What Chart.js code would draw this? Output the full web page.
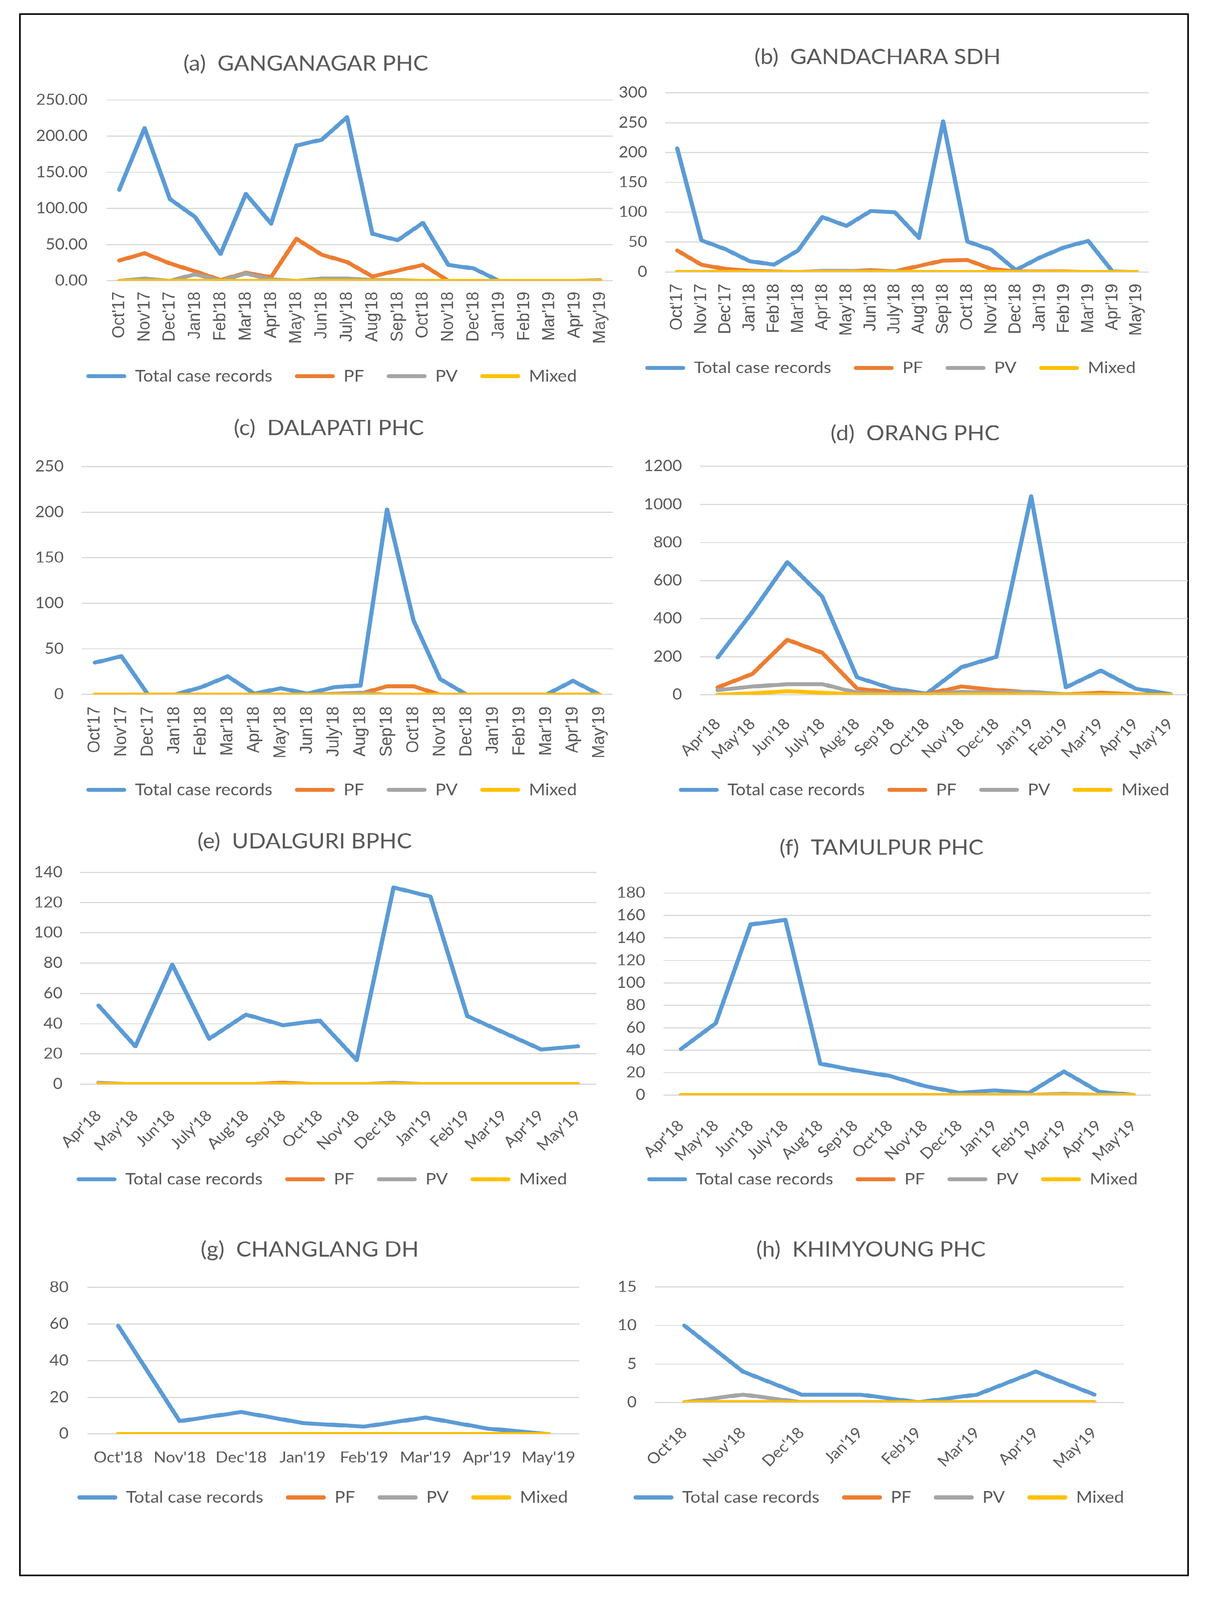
<!DOCTYPE html>
<html><head><meta charset="utf-8">
<script src="https://cdn.jsdelivr.net/npm/chart.js@4.4.1/dist/chart.umd.min.js"></script>
<style>
html,body{margin:0;padding:0;background:#fff;overflow:hidden;}
#stage{position:absolute;left:0;top:0;width:3093px;height:4425px;transform-origin:0 0;}
#frame{position:absolute;left:49px;top:37px;width:2995px;height:4322px;box-sizing:border-box;border:4px solid #000;}
canvas{position:absolute;}
</style></head><body>
<div id="stage"><div id="frame"></div></div>
<script>
// ---------- categories ----------
const months20 = ["Oct'17","Nov'17","Dec'17","Jan'18","Feb'18","Mar'18","Apr'18","May'18","Jun'18","July'18","Aug'18","Sep'18","Oct'18","Nov'18","Dec'18","Jan'19","Feb'19","Mar'19","Apr'19","May'19"];
const months14 = ["Apr'18","May'18","Jun'18","July'18","Aug'18","Sep'18","Oct'18","Nov'18","Dec'18","Jan'19","Feb'19","Mar'19","Apr'19","May'19"];
const months8 = ["Oct'18","Nov'18","Dec'18","Jan'19","Feb'19","Mar'19","Apr'19","May'19"];
const seriesNames = ["Total case records","PF","PV","Mixed"];
const seriesColors = ["#5B9BD5","#ED7D31","#A5A5A5","#FFC000"];

// ---------- titles ----------
const titleA = "(a)  GANGANAGAR PHC";
const titleB = "(b)  GANDACHARA SDH";
const titleC = "(c)  DALAPATI PHC";
const titleD = "(d)  ORANG PHC";
const titleE = "(e)  UDALGURI BPHC";
const titleF = "(f)  TAMULPUR PHC";
const titleG = "(g)  CHANGLANG DH";
const titleH = "(h)  KHIMYOUNG PHC";

// ---------- series values ----------
const totalA = [126,211,113,88,37,120,79,187,195,226,65,56,80,22,17,0,0,0,0,0];
const pfA    = [28,38,24,13,1,11,5,58,36,26,6,14,22,0,0,0,0,0,0,0];
const pvA    = [0,3,0,9,0,10,2,0,3,3,1,1,0,0,0,0,0,0,0,1];
const mixA   = [0,0,0,0,0,0,0,0,0,0,0,0,0,0,0,0,0,0,0,0];

const totalB = [207,53,38,18,12,36,92,77,102,100,57,252,51,37,3,24,41,52,1,0];
const pfB    = [36,12,5,2,1,0,1,1,3,1,10,19,20,5,1,1,1,0,0,0];
const pvB    = [0,0,0,0,0,0,2,2,1,1,0,0,0,0,0,1,0,0,0,0];
const mixB   = [0,0,0,0,0,0,0,0,0,0,0,0,0,0,0,0,0,0,0,0];

const totalC = [35,42,0,0,8,20,1,7,1,8,10,203,81,17,0,0,0,0,15,0];
const pfC    = [0,0,0,0,0,0,0,0,0,0,1,9,9,0,0,0,0,0,0,0];
const pvC    = [0,0,0,0,0,0,0,0,0,1,2,0,0,0,0,0,0,0,0,0];
const mixC   = [0,0,0,0,0,0,0,0,0,0,0,0,0,0,0,0,0,0,0,0];

const totalD = [196,436,697,516,92,33,6,145,199,1042,39,127,32,4];
const pfD    = [39,110,289,221,33,12,4,43,25,12,3,11,3,1];
const pvD    = [25,43,56,56,11,5,3,15,11,15,3,2,1,0];
const mixD   = [1,8,18,11,2,1,1,2,2,2,1,1,0,0];

const totalE = [52,25,79,30,46,39,42,16,130,124,45,34,23,25];
const pfE    = [0,0,0,0,0,1,0,0,0,0,0,0,0,0];
const pvE    = [1,0,0,0,0,0,0,0,1,0,0,0,0,0];
const mixE   = [0,0,0,0,0,0,0,0,0,0,0,0,0,0];

const totalF = [41,64,152,156,28,22,17,8,2,4,2,21,3,0];
const pfF    = [0,0,0,0,0,0,0,0,0,0,0,0,0,0];
const pvF    = [0,0,0,0,0,0,0,0,0,0,0,1,0,0];
const mixF   = [0,0,0,0,0,0,0,0,0,0,0,0,0,0];

const totalG = [59,7,12,6,4,9,3,0];
const pfG    = [0,0,0,0,0,0,0,0];
const pvG    = [0,0,0,0,0,0,0,0];
const mixG   = [0,0,0,0,0,0,0,0];

const totalH = [10,4,1,1,0,1,4,1];
const pfH    = [0,0,0,0,0,0,0,0];
const pvH    = [0,1,0,0,0,0,0,0];
const mixH   = [0,0,0,0,0,0,0,0];

// ---------- y-axis tick settings ----------
const yMaxes = [250,300,250,1200,140,180,80,15];
const ySteps = [50,50,50,200,20,20,20,5];

// ---------- panel table (built from the arrays above) ----------
const panelData = [
  {title:titleA, labels:months20, series:[totalA,pfA,pvA,mixA], dec:2},
  {title:titleB, labels:months20, series:[totalB,pfB,pvB,mixB], dec:0},
  {title:titleC, labels:months20, series:[totalC,pfC,pvC,mixC], dec:0},
  {title:titleD, labels:months14, series:[totalD,pfD,pvD,mixD], dec:0},
  {title:titleE, labels:months14, series:[totalE,pfE,pvE,mixE], dec:0},
  {title:titleF, labels:months14, series:[totalF,pfF,pvF,mixF], dec:0},
  {title:titleG, labels:months8,  series:[totalG,pfG,pvG,mixG], dec:0},
  {title:titleH, labels:months8,  series:[totalH,pfH,pvH,mixH], dec:0}
];

// ---------- layout (reference pixels) ----------
const layout = [
  {pl:273, pr:1569, pt:276.5, pb:777,   ylr:224,   tx:783,  ty:176,  lx:849,  ly:1041, rot:90, xpad:30},
  {pl:1703,pr:2941, pt:257,   pb:752.5, ylr:1657,  tx:2247, ty:158,  lx:2280, ly:1018, rot:90, xpad:33},
  {pl:209, pr:1569, pt:1290.7,pb:1921.4,ylr:163,   tx:842,  ty:1184, lx:849,  ly:2185, rot:90, xpad:33},
  {pl:1793,pr:3046, pt:1290,  pb:1922,  ylr:1746,  tx:2343, ty:1199, lx:2366, ly:2185, rot:45, xpad:56},
  {pl:205, pr:1527, pt:2412.7,pb:2999,  ylr:160,   tx:780,  ty:2327, lx:824,  ly:3262, rot:45, xpad:62},
  {pl:1699,pr:2947, pt:2470,  pb:3029,  ylr:1652,  tx:2257, ty:2345, lx:2285, ly:3262, rot:45, xpad:60},
  {pl:224, pr:1483, pt:3560.5,pb:3966.4,ylr:175.5, tx:793,  ty:3456, lx:826,  ly:4142, rot:0,  xpad:40},
  {pl:1677,pr:2877, pt:3560,  pb:3878.6,ylr:1630,  tx:2230, ty:3456, lx:2250, ly:4142, rot:45, xpad:60}
];

const TEXT = '#595959';
const TF = 58, LF = 45, YF = 42, LEGPAD = 58;

const placePlugin = {
  id: 'place',
  afterLayout(chart, args, opts) {
    const tb = chart.titleBlock;
    if (tb) { const w = tb.right - tb.left; tb.left = opts.titleX - w/2; tb.right = tb.left + w; }
    const lg = chart.legend;
    if (lg) { const w = lg.right - lg.left; lg.left = opts.legendX - w/2; lg.right = lg.left + w; }
    // let the x tick labels run past the axis box (no clipping)
    const xs = chart.scales.x;
    if (xs) xs.bottom = chart.height;
  }
};

const stage = document.getElementById('stage');
function fitStage() {
  const vw = window.innerWidth || 3093, vh = window.innerHeight || 4425;
  stage.style.transform = 'scale(' + (vw/3093) + ',' + (vh/4425) + ')';
}
fitStage();
window.addEventListener('resize', fitStage);

function build(i) {
  const d = panelData[i], g = layout[i];
  const L = g.pl < 1000 ? 55 : 1500;
  const Wy = g.pl - L;
  const Wr = Math.min(150, 3090 - g.pr);
  const W = g.pr + Wr - L;
  const padTop = 10;
  const T = g.ty - 0.6*TF - padTop;
  const padBottom = g.pt - g.ty - 0.6*TF;
  const B = g.ly + LF/2 + 10;
  const H = B - T;
  const legendTop = g.ly - LF/2 - LEGPAD;
  const xh = legendTop - g.pb;

  const cv = document.createElement('canvas');
  cv.width = Math.round(W); cv.height = Math.round(H);
  cv.style.left = L + 'px'; cv.style.top = T + 'px';
  cv.style.width = Math.round(W) + 'px'; cv.style.height = Math.round(H) + 'px';
  stage.appendChild(cv);

  const xFont = g.rot === 90 ? {family:"'Liberation Sans', Arial, sans-serif", size:45}
                             : {family:"Lato, sans-serif", size:YF};

  const datasets = d.series.map((vals, k) => ({
    label: seriesNames[k],
    data: vals,
    borderColor: seriesColors[k],
    backgroundColor: seriesColors[k],
    borderWidth: 11,
    pointRadius: 0,
    pointHoverRadius: 0,
    tension: 0,
    fill: false,
    borderJoinStyle: 'round',
    borderCapStyle: 'round',
    yAxisID: 'y',
    order: 3 - k
  }));

  new Chart(cv.getContext('2d'), {
    type: 'line',
    data: { labels: d.labels, datasets },
    plugins: [placePlugin],
    options: {
      responsive: false,
      animation: false,
      devicePixelRatio: 1,
      layout: { padding: 0 },
      events: [],
      scales: {
        x: {
          type: 'category',
          offset: true,
          grid: { display: false, drawTicks: false },
          border: { display: false },
          ticks: {
            autoSkip: false, minRotation: g.rot, maxRotation: g.rot,
            padding: g.xpad, color: TEXT, font: xFont
          },
          afterFit: s => { s.height = xh; }
        },
        y: {
          type: 'linear', position: 'left',
          min: 0, max: yMaxes[i],
          grid: { color: '#d9d9d9', lineWidth: 3, drawTicks: false },
          border: { display: false },
          ticks: {
            stepSize: ySteps[i], padding: g.pl - g.ylr, color: TEXT,
            font: {family: "Lato, sans-serif", size: YF},
            callback: v => Number(v).toFixed(d.dec)
          },
          afterFit: s => { s.width = Wy; }
        },
        yR: {
          type: 'linear', position: 'right', display: true,
          grid: { display: false, drawTicks: false },
          border: { display: false },
          ticks: { display: false },
          afterFit: s => { s.width = Wr; }
        }
      },
      plugins: {
        place: { titleX: g.tx - L, legendX: g.lx - L },
        title: {
          display: true, text: d.title, color: TEXT,
          font: { family: "Lato, sans-serif", size: TF, weight: 'normal' },
          padding: { top: padTop, bottom: padBottom }
        },
        legend: {
          display: true, position: 'bottom',
          labels: {
            color: TEXT, boxWidth: 102, boxHeight: 11, padding: LEGPAD,
            useBorderRadius: true, borderRadius: 5,
            font: { family: "Lato, sans-serif", size: LF },
            generateLabels: chart => {
              const items = Chart.defaults.plugins.legend.labels.generateLabels(chart);
              items.forEach(it => { it.lineWidth = 0; it.fillStyle = seriesColors[it.datasetIndex]; });
              return items.sort((a, b) => a.datasetIndex - b.datasetIndex);
            }
          }
        },
        tooltip: { enabled: false }
      }
    }
  });
}

function go() { for (let i = 0; i < panelData.length; i++) build(i); }
Promise.all([
  document.fonts.load("42px Lato"),
  document.fonts.load("45px 'Liberation Sans'")
]).then(go, go);
</script>
</body></html>
